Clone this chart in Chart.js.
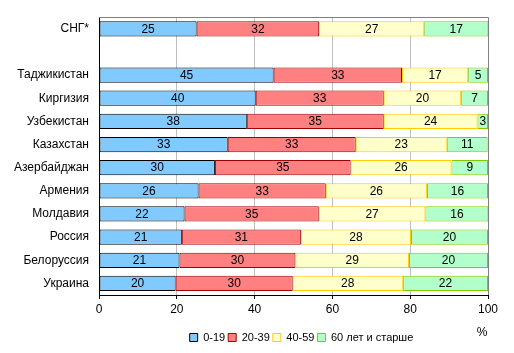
<!DOCTYPE html>
<html>
<head>
<meta charset="utf-8">
<script src="https://cdn.jsdelivr.net/npm/chart.js@4"></script>
<style>
html,body{margin:0;padding:0;background:#fff;}
#wrap{width:514px;height:353px;position:relative;}
</style>
</head>
<body>
<div id="wrap"><canvas id="c"></canvas></div>
<script>
const categories = ["СНГ*", "", "Таджикистан", "Киргизия", "Узбекистан", "Казахстан", "Азербайджан", "Армения", "Молдавия", "Россия", "Белоруссия", "Украина"];
const seriesNames = ["0-19", "20-39", "40-59", "60 лет и старше"];
const age0_19  = [25.1, null, 44.9, 40.3, 38.0, 33.1, 29.8, 25.6, 22.0, 21.3, 20.7, 19.7];
const age20_39 = [31.5, null, 33.0, 32.9, 35.2, 32.9, 34.9, 32.7, 34.5, 30.6, 29.8, 30.1];
const age40_59 = [27.0, null, 17.0, 19.9, 24.1, 23.4, 25.9, 26.0, 27.4, 28.3, 29.2, 28.3];
const age60    = [16.5, null, 5.1, 6.9, 2.7, 10.5, 9.4, 15.7, 16.2, 19.8, 20.3, 21.9];
const xTicks = [0, 20, 40, 60, 80, 100];
const unitLabel = "%";

const FONT = '"Liberation Sans", Arial, sans-serif';
Chart.defaults.font.family = FONT;
Chart.defaults.color = '#000';

const fills = ['#80CAFF', '#FF8080', '#FFFFCC', '#B3FFCC'];
const borders = ['#000000', '#A00000', '#FFCC00', '#80C800'];
const allData = [age0_19, age20_39, age40_59, age60];

const valueLabels = {
  id: 'valueLabels',
  afterDatasetsDraw(chart) {
    const ctx = chart.ctx;
    ctx.save();
    ctx.font = '12px ' + FONT;
    ctx.fillStyle = '#000';
    ctx.textAlign = 'center';
    ctx.textBaseline = 'middle';
    chart.data.datasets.forEach((ds, di) => {
      const meta = chart.getDatasetMeta(di);
      meta.data.forEach((el, i) => {
        const v = ds.data[i];
        if (v === null || v === undefined) return;
        ctx.fillText(String(Math.round(v)), (el.x + el.base) / 2, el.y + 0.5);
      });
    });
    ctx.restore();
  }
};

const frame = {
  id: 'frame',
  afterLayout(chart) {
    if (chart.legend) { chart.legend.left += 8; chart.legend.right += 8; }
  },
  beforeDatasetsDraw(chart) {
    const a = chart.chartArea, ctx = chart.ctx;
    ctx.save();
    ctx.strokeStyle = '#808080';
    ctx.lineWidth = 1;
    ctx.beginPath();
    ctx.moveTo(a.left, Math.round(a.top) + 0.5);
    ctx.lineTo(a.right, Math.round(a.top) + 0.5);
    ctx.stroke();
    ctx.restore();
  },
  afterDraw(chart) {
    const a = chart.chartArea, ctx = chart.ctx;
    ctx.save();
    ctx.font = '12px ' + FONT;
    ctx.fillStyle = '#000';
    ctx.textAlign = 'center';
    ctx.textBaseline = 'middle';
    ctx.fillText(unitLabel, a.right - 6, 333);
    ctx.restore();
  }
};

new Chart(document.getElementById('c'), {
  type: 'bar',
  data: {
    labels: categories,
    datasets: allData.map((d, i) => ({
      label: seriesNames[i],
      data: d,
      backgroundColor: fills[i],
      borderColor: borders[i],
      borderWidth: 1,
      borderSkipped: false,
      barPercentage: 0.66,
      categoryPercentage: 1.0
    }))
  },
  options: {
    indexAxis: 'y',
    responsive: true,
    maintainAspectRatio: false,
    animation: false,
    layout: { padding: { left: 0, right: 26, top: 15, bottom: 0 } },
    scales: {
      x: {
        stacked: true,
        min: 0, max: 100,
        afterBuildTicks(scale) { scale.ticks = xTicks.map(v => ({ value: v })); },
        afterFit(scale) { scale.height = 34; },
        ticks: { font: { size: 12 }, color: '#000', padding: 3, maxRotation: 0 },
        grid: {
          color: (c) => (c.tick && c.tick.value === 100) ? '#808080' : '#C0C0C0',
          tickColor: '#000',
          tickLength: 4,
          drawOnChartArea: true
        },
        border: { color: '#000', width: 1 }
      },
      y: {
        stacked: true,
        afterFit(scale) { scale.width = 99; },
        ticks: { font: { size: 12 }, color: '#000', padding: 10 },
        grid: { display: false, drawTicks: false },
        border: { color: '#000', width: 1 }
      }
    },
    plugins: {
      legend: {
        position: 'bottom',
        fullSize: false,
        labels: { boxWidth: 8, boxHeight: 8, font: { size: 11 }, color: '#000', padding: 3 }
      },
      tooltip: { enabled: false }
    }
  },
  plugins: [valueLabels, frame]
});
</script>
</body>
</html>
